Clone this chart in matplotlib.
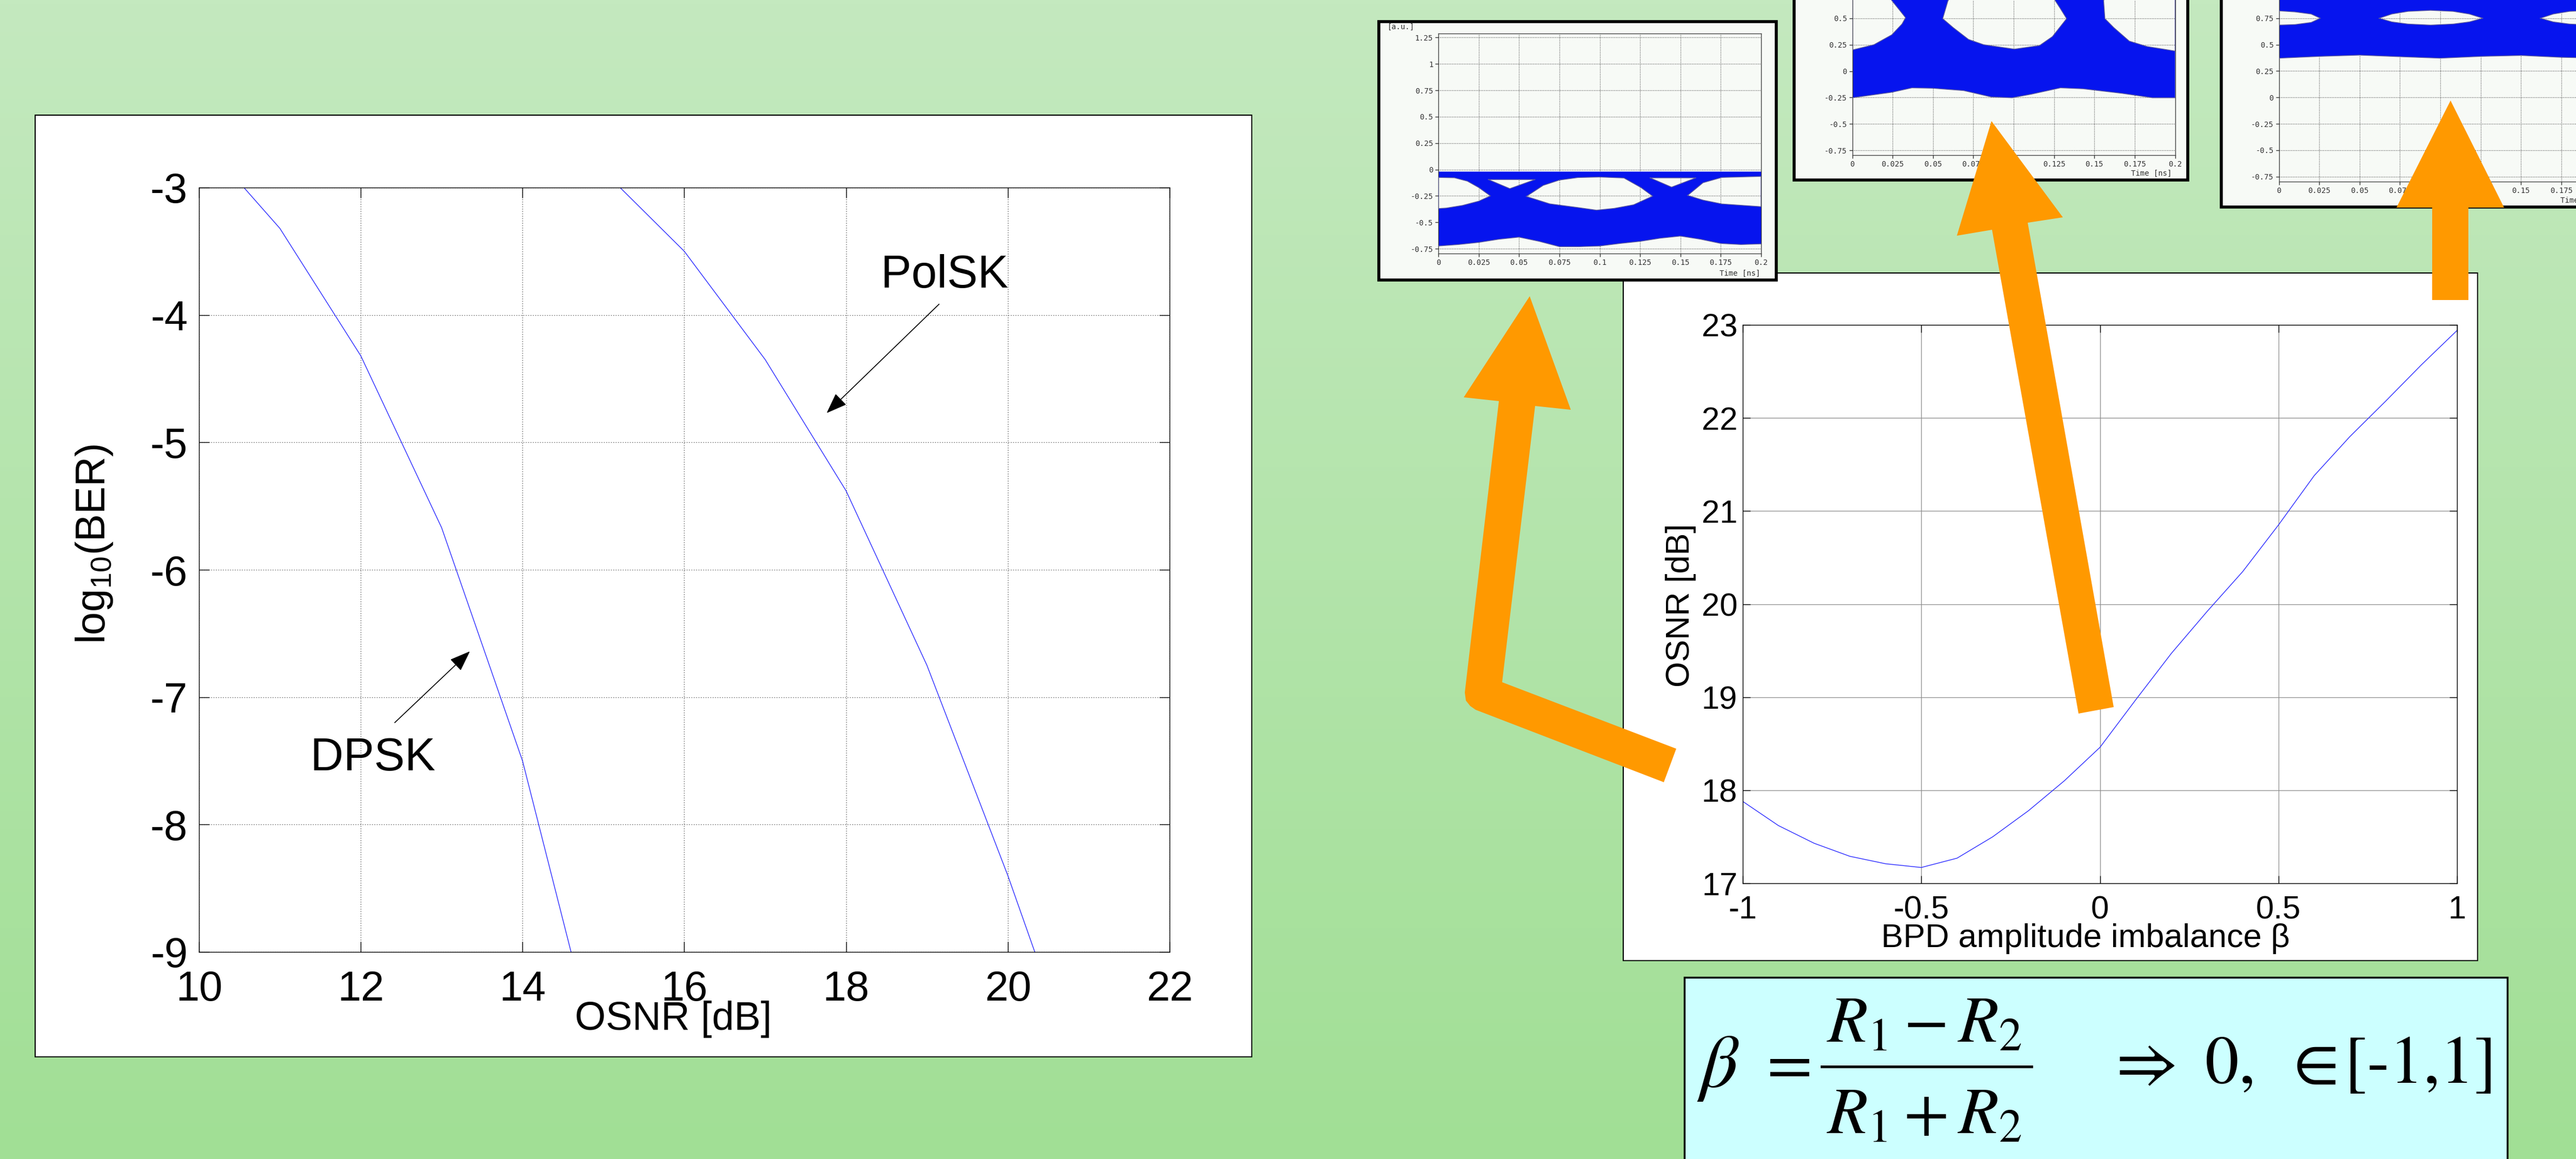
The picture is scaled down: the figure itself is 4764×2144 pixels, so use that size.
import numpy as np
import matplotlib.pyplot as plt
from matplotlib.patches import Rectangle, Polygon, PathPatch
from matplotlib.path import Path
from matplotlib.colors import LinearSegmentedColormap

plt.rcParams['font.family'] = ['Liberation Sans', 'DejaVu Sans']
plt.rcParams['axes.unicode_minus'] = False
plt.rcParams['mathtext.fontset'] = 'custom'
plt.rcParams['mathtext.rm'] = 'Liberation Sans'
plt.rcParams['mathtext.it'] = 'Liberation Sans:italic'

# ---- data: BER vs OSNR (left plot)
dpsk_osnr = [10, 11, 12, 13, 14, 15]
dpsk_ber = [-2.6, -3.32, -4.32, -5.67, -7.5, -10.0]
polsk_osnr = [15, 16, 17, 18, 19, 20, 21]
polsk_ber = [-2.87, -3.5, -4.35, -5.38, -6.75, -8.4, -10.2]
ber_xticks = [10, 12, 14, 16, 18, 20, 22]
ber_yticks = [-9, -8, -7, -6, -5, -4, -3]

# ---- data: required OSNR vs BPD amplitude imbalance (right plot)
beta = [-1, -0.9, -0.8, -0.7, -0.6, -0.5, -0.4, -0.3, -0.2, -0.1, 0,
        0.1, 0.2, 0.3, 0.4, 0.5, 0.6, 0.7, 0.8, 0.9, 1]
osnr_req = [17.88, 17.62, 17.43, 17.29, 17.21, 17.17, 17.27, 17.5, 17.78, 18.1, 18.46,
            18.97, 19.47, 19.92, 20.35, 20.85, 21.38, 21.8, 22.18, 22.57, 22.94]
beta_ticks = [-1, -0.5, 0, 0.5, 1]
beta_labels = ['-1', '-0.5', '0', '0.5', '1']
osnr_ticks = [17, 18, 19, 20, 21, 22, 23]

# ---- data: eye diagrams (time in ns, amplitude in a.u.)
eye_xticks = [0, 0.025, 0.05, 0.075, 0.1, 0.125, 0.15, 0.175, 0.2]
eye_xlabels = ['0', '0.025', '0.05', '0.075', '0.1', '0.125', '0.15', '0.175', '0.2']
eye_yticks = [-0.75, -0.5, -0.25, 0, 0.25, 0.5, 0.75, 1, 1.25]
eye_ylabels = ['-0.75', '-0.5', '-0.25', '0', '0.25', '0.5', '0.75', '1', '1.25']

eye1_t = [0, 0.0125, 0.025, 0.0375, 0.05, 0.0625, 0.075, 0.0875, 0.1, 0.1125,
          0.125, 0.1375, 0.15, 0.1625, 0.175, 0.1875, 0.2]
eye1_low = [-0.724, -0.71, -0.69, -0.66, -0.64, -0.68, -0.73, -0.73, -0.724, -0.70,
            -0.68, -0.65, -0.63, -0.66, -0.70, -0.71, -0.704]
eye1_high = -0.02
eye1_holes = [
    ([0, 0.010, 0.018, 0.025, 0.0323, 0.025, 0.015, 0.005, 0],
     [-0.075, -0.078, -0.11, -0.17, -0.25, -0.30, -0.34, -0.365, -0.37]),
    ([0.0545, 0.065, 0.075, 0.0864, 0.1, 0.115, 0.1255, 0.1328, 0.121, 0.109, 0.098, 0.0864, 0.069],
     [-0.255, -0.15, -0.10, -0.076, -0.071, -0.08, -0.17, -0.252, -0.334, -0.368, -0.385, -0.36, -0.325]),
    ([0.1545, 0.164, 0.1756, 0.2, 0.2, 0.1756, 0.164],
     [-0.245, -0.125, -0.075, -0.065, -0.352, -0.326, -0.29]),
    ([0.031, 0.060, 0.0443], [-0.095, -0.095, -0.181]),
    ([0.1312, 0.1596, 0.1445], [-0.079, -0.079, -0.167]),
]

eye2_t = [0, 0.0245, 0.037, 0.05, 0.069, 0.086, 0.099, 0.111, 0.129, 0.143, 0.167, 0.186, 0.2]
eye2_low = [-0.252, -0.2, -0.158, -0.162, -0.184, -0.244, -0.252, -0.218, -0.158,
            -0.167, -0.21, -0.252, -0.252]
eye2_high = 1.0
eye2_holes = [
    ([0, 0.0134, 0.0245, 0.0308, 0.033, 0.029, 0.0245, 0.02, 0],
     [0.2, 0.25, 0.344, 0.446, 0.506, 0.583, 0.668, 0.8, 0.8]),
    ([0.0593, 0.056, 0.0625, 0.072, 0.0814, 0.1004, 0.116, 0.124, 0.1328, 0.1286, 0.1257, 0.12, 0.065],
     [0.668, 0.497, 0.412, 0.3, 0.25, 0.208, 0.242, 0.327, 0.497, 0.6, 0.668, 0.8, 0.8]),
    ([0.1557, 0.1565, 0.162, 0.1716, 0.1826, 0.2, 0.2, 0.16],
     [0.668, 0.497, 0.412, 0.284, 0.233, 0.19, 0.8, 0.8]),
]

eye3_t = [0, 0.025, 0.05, 0.075, 0.1, 0.125, 0.15, 0.175, 0.2]
eye3_low = [0.372, 0.389, 0.401, 0.386, 0.372, 0.389, 0.398, 0.38, 0.372]
eye3_high = 1.3
eye3_holes = [
    ([0, 0.01, 0.02, 0.0257, 0.02, 0.01, 0],
     [0.82, 0.81, 0.79, 0.75, 0.71, 0.69, 0.685]),
    ([0.0621, 0.07, 0.08, 0.094, 0.108, 0.118, 0.1264, 0.118, 0.108, 0.094, 0.08, 0.07],
     [0.75, 0.79, 0.815, 0.825, 0.815, 0.79, 0.75, 0.715, 0.695, 0.685, 0.695, 0.715]),
    ([0.162, 0.17, 0.18, 0.194, 0.2, 0.2, 0.194, 0.18, 0.17],
     [0.75, 0.79, 0.815, 0.825, 0.82, 0.69, 0.685, 0.695, 0.715]),
]

# ---- layout in pixels of the 4764x2144 canvas
W, H = 4764, 2144


def rect_of(l, t, r, b):
    return [l / W, 1 - b / H, (r - l) / W, (b - t) / H]


fig = plt.figure(figsize=(W / 100, H / 100), dpi=100)

# background gradient and panels
bg = fig.add_axes([0, 0, 1, 1], zorder=0)
cmap = LinearSegmentedColormap.from_list('bg', ['#c4e9bf', '#a1df95'])
bg.imshow(np.linspace(0, 1, 256).reshape(-1, 1), aspect='auto', cmap=cmap,
          extent=[0, W, H, 0])
bg.set_xlim(0, W)
bg.set_ylim(H, 0)
bg.axis('off')
bg.add_patch(Rectangle((65, 213), 2250, 1742, fc='white', ec='black', lw=1.5))
bg.add_patch(Rectangle((3002, 505), 1580, 1272, fc='white', ec='black', lw=1.5))
bg.add_patch(Rectangle((3115, 1808), 1522, 400, fc='#ccffff', ec='black', lw=2.5))

# formula
fkw = dict(fontsize=88, math_fontfamily='stix', color='black')
bg.text(3138, 1975, r'$\beta$', ha='left', va='center', fontsize=100,
        math_fontfamily='stix')
bg.text(3299, 1972, r'$=$', ha='center', va='center', **fkw)
bg.text(3558, 1928, r'$R_1 - R_2$', ha='center', va='baseline', **fkw)
bg.plot([3369, 3757], [1973, 1973], color='black', lw=3.5)
bg.text(3558, 2097, r'$R_1 + R_2$', ha='center', va='baseline', **fkw)
skw = dict(fontsize=90, family=['STIXGeneral', 'DejaVu Serif'], color='black',
           va='baseline', ha='left')
bg.text(3912, 2003, '\u21d2', **skw)
bg.text(4078, 2003, '0,', **skw)
bg.text(4240, 2003, '\u2208', **skw)
bg.text(4336, 2003, '[-1,1]', **skw)

# ---- left plot: BER
ax1 = fig.add_axes(rect_of(368, 347, 2163, 1761), zorder=2)
ax1.plot(dpsk_osnr, dpsk_ber, color='#2a2aff', lw=1.0)
ax1.plot(polsk_osnr, polsk_ber, color='#2a2aff', lw=1.0)
ax1.set_xlim(10, 22)
ax1.set_ylim(-9, -3)
ax1.set_xticks(ber_xticks)
ax1.set_yticks(ber_yticks)
ax1.grid(True, ls=(0, (1.5, 2.0)), color='#707070', lw=0.9)
ax1.tick_params(direction='in', top=True, right=True, length=14, width=1,
                labelsize=56)
ax1.tick_params(axis='x', pad=24)
ax1.tick_params(axis='y', pad=15)
for s in ax1.spines.values():
    s.set_linewidth(1.0)
ax1.text(0.4886, -0.088, 'OSNR [dB]', transform=ax1.transAxes, ha='center',
         va='center', fontsize=53)
ax1.text(-0.108, 0.534, r'log$_{10}$(BER)', transform=ax1.transAxes, ha='center',
         va='center', rotation=90, fontsize=55)
akw = dict(arrowstyle='-|>,head_length=0.4,head_width=0.15', color='black', lw=1.2,
           mutation_scale=60, shrinkA=0, shrinkB=0)
ax1.annotate('', xy=(17.76, -4.77), xytext=(19.15, -3.915), arrowprops=akw)
ax1.annotate('', xy=(13.35, -6.64), xytext=(12.42, -7.2), arrowprops=akw)
ax1.text(19.22, -3.69, 'PolSK', ha='center', va='center', fontsize=61)
ax1.text(12.15, -7.48, 'DPSK', ha='center', va='center', fontsize=61)

# ---- right plot: OSNR vs beta
ax2 = fig.add_axes(rect_of(3223, 601, 4544, 1634), zorder=2)
ax2.plot(beta, osnr_req, color='#2a2aff', lw=1.0)
ax2.set_xlim(-1, 1)
ax2.set_ylim(17, 23)
ax2.set_xticks(beta_ticks)
ax2.set_xticklabels(beta_labels)
ax2.set_yticks(osnr_ticks)
ax2.grid(True, color='#8c8c8c', lw=0.9)
ax2.tick_params(direction='in', top=True, right=True, length=10, width=1,
                labelsize=43)
ax2.tick_params(axis='x', pad=16)
ax2.tick_params(axis='y', pad=7)
for s in ax2.spines.values():
    s.set_linewidth(1.0)
ax2.text(-0.087, 0.4976, 'OSNR [dB]', transform=ax2.transAxes, ha='center',
         va='center', rotation=90, fontsize=44)
ax2.text(0.48, -0.0997, 'BPD amplitude imbalance \u03b2', transform=ax2.transAxes,
         ha='center', va='center', fontsize=44)

# ---- eye diagrams
mid = fig.add_axes([0, 0, 1, 1], zorder=3)
mid.set_xlim(0, W)
mid.set_ylim(H, 0)
mid.axis('off')

eye_boxes = [(2550, 40, 3285, 518), (3318, -143, 4046, 333), (4108, -94, 4840, 383)]
eye_axes_pos = [(2660, 469.3), (3425.6, 287.3), (4214.5, 336.0)]
eyes = [(eye1_t, eye1_low, eye1_high, eye1_holes),
        (eye2_t, eye2_low, eye2_high, eye2_holes),
        (eye3_t, eye3_low, eye3_high, eye3_holes)]


def ring(xs, ys, ccw):
    pts = np.column_stack([xs, ys]).astype(float)
    area = 0.5 * np.sum(pts[:, 0] * np.roll(pts[:, 1], -1) - np.roll(pts[:, 0], -1) * pts[:, 1])
    if (area > 0) != ccw:
        pts = pts[::-1]
    return pts


def eye_patch(t, low, high, holes):
    t = np.asarray(t, float)
    hi = np.full(len(t), high)
    outer = ring(np.r_[t, t[::-1]], np.r_[low, hi[::-1]], True)
    verts, codes = [], []
    for p in [outer] + [ring(hx, hy, False) for hx, hy in holes]:
        verts += list(p) + [p[0]]
        codes += [Path.MOVETO] + [Path.LINETO] * (len(p) - 1) + [Path.CLOSEPOLY]
    return PathPatch(Path(verts, codes), fc='#0614ee', ec='none', zorder=2)


mono = ['DejaVu Sans Mono']
ppu_x = 597 / 0.2
ppu_y = 407.6 / (1.289 + 0.797)
for (l, t, r, b), (al, ab), (et, elow, ehigh, eholes) in zip(eye_boxes, eye_axes_pos, eyes):
    mid.add_patch(Rectangle((l, t), r - l, b - t, fc='#f7faf6', ec='black', lw=4))
    mid.text(r - 30, b - 12, 'Time [ns]', ha='right', va='center', fontsize=10,
             family=mono, color='#333333')
    if t + 10 > 0:
        mid.text(l + 16, t + 10, '[a.u.]', ha='left', va='center', fontsize=10,
                 family=mono, color='#333333')
    ax = fig.add_axes(rect_of(al, ab - 407.6, al + 597, ab), zorder=4)
    ax.set_facecolor('none')
    ax.set_xlim(0, 0.2)
    ax.set_ylim(-0.797, 1.289)
    ax.set_axisbelow(True)
    ax.grid(True, ls=(0, (1, 1.5)), color='#505050', lw=0.9)
    ax.add_patch(eye_patch(et, elow, ehigh, eholes))
    ax.plot(et, elow, color='#5555a0', lw=1.0, zorder=3)
    for hx, hy in eholes:
        ax.plot(list(hx) + [hx[0]], list(hy) + [hy[0]], color='#5555a0', lw=1.0, zorder=3)
    ax.set_xticks(eye_xticks)
    ax.set_yticks(eye_yticks)
    # only label ticks whose label lies inside the canvas
    ax.set_xticklabels([s if al + v * ppu_x + 20 < W else '' for v, s in zip(eye_xticks, eye_xlabels)],
                       family=mono)
    ax.set_yticklabels([s if ab - (v + 0.797) * ppu_y > 6 else '' for v, s in zip(eye_yticks, eye_ylabels)],
                       family=mono)
    ax.tick_params(direction='out', length=4, width=1, labelsize=10, pad=3,
                   colors='#333333')
    for s in ax.spines.values():
        s.set_color('#444444')
        s.set_linewidth(1.0)

# ---- orange arrows on top
top = fig.add_axes([0, 0, 1, 1], zorder=10)
top.set_xlim(0, W)
top.set_ylim(H, 0)
top.axis('off')
arrow_a = [(2829, 548), (2905, 758), (2839, 751), (2778, 1262), (3100, 1385),
           (3077, 1447), (2729, 1313), (2719, 1306), (2711, 1296), (2709, 1281),
           (2772, 742), (2707, 735)]
arrow_b = [(3683, 224), (3815, 402), (3750, 412), (3909, 1308), (3844, 1320),
           (3684, 425), (3619, 436)]
arrow_c = [(4532, 186), (4631, 384), (4565, 384), (4565, 555), (4498, 555),
           (4498, 384), (4432, 384)]
for poly in (arrow_a, arrow_b, arrow_c):
    top.add_patch(Polygon(poly, closed=True, fc='#ff9900', ec='none'))

fig.savefig('out.png', dpi=100)
